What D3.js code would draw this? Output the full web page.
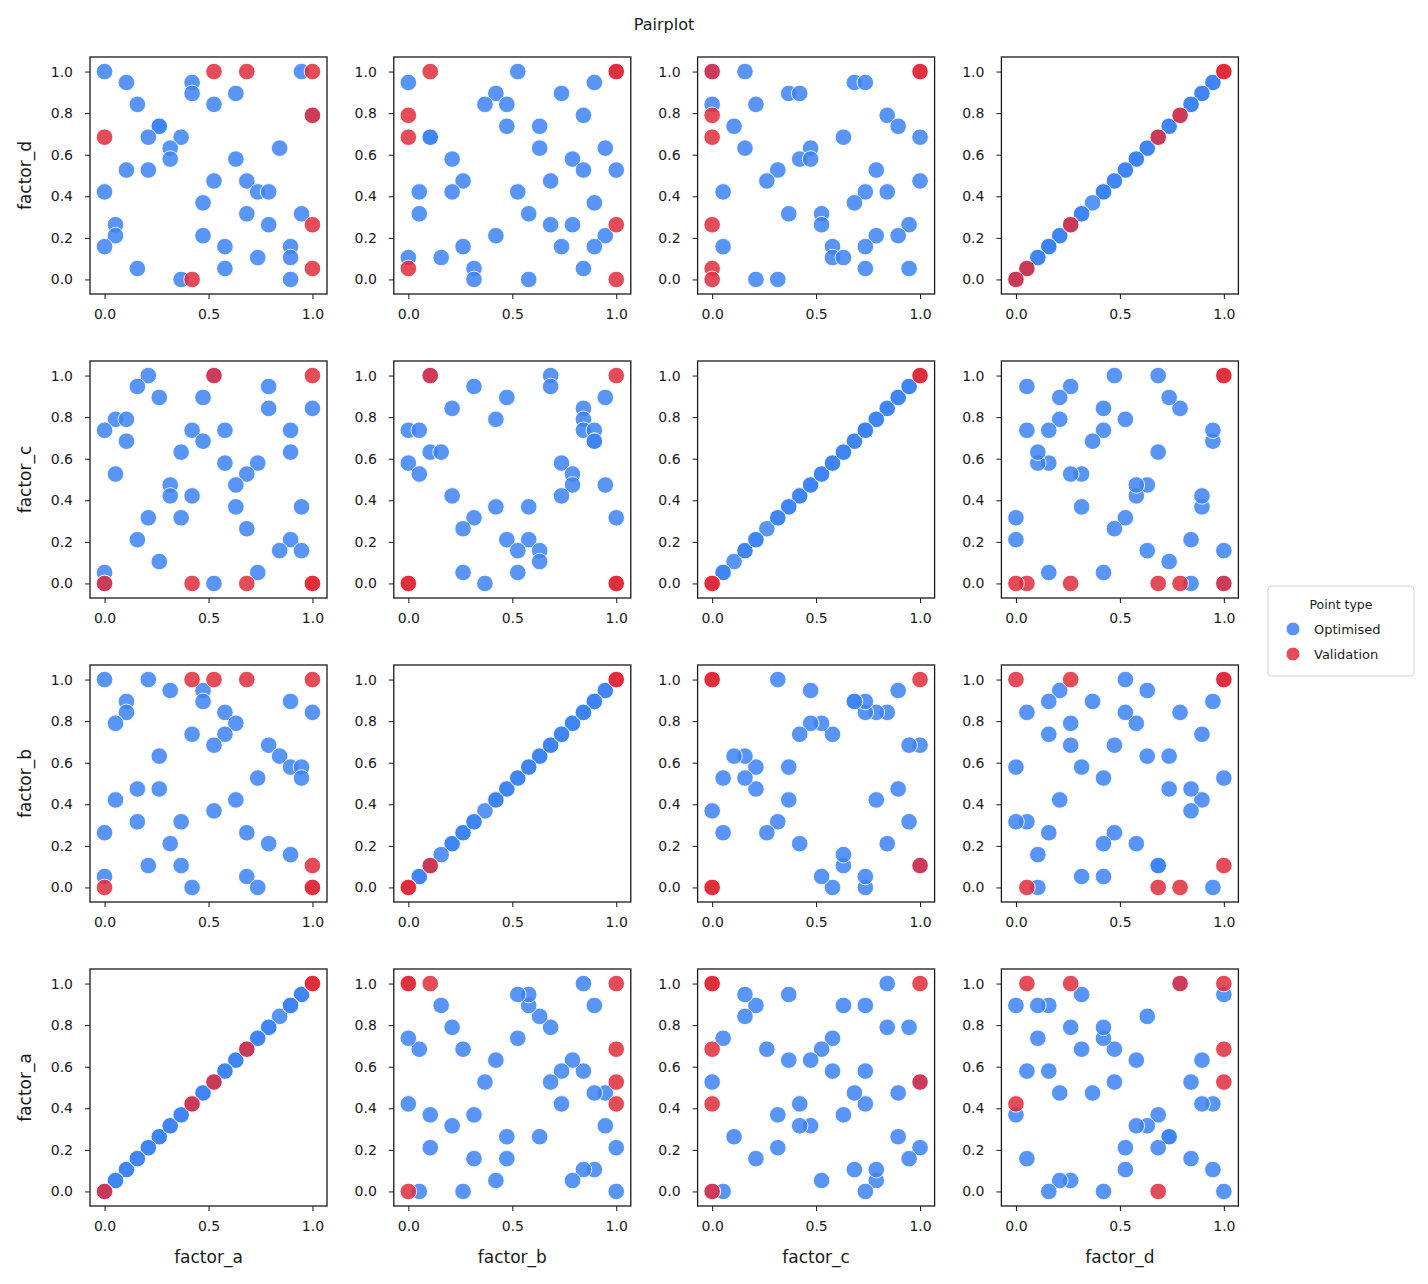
<!DOCTYPE html>
<html>
<head>
<meta charset="utf-8">
<script src="https://cdn.jsdelivr.net/npm/d3@7"></script>
<style>
  body { margin: 0; background: #fff; }
  text { font-family: "DejaVu Sans", sans-serif; fill: #1a1a1a; }
  .tick text { font-size: 14px; }
  .tick line { stroke: #1a1a1a; }
  .frame { fill: none; stroke: #1a1a1a; stroke-width: 1.3; }
</style>
</head>
<body>
<div id="chart"></div>
<script>
// factor order for columns (x); rows go the other way round
const factors = ["factor_a", "factor_b", "factor_c", "factor_d"];
const rowFactors = [3, 2, 1, 0];
const steps = 19;  // values are i / 19
const xTicks = [0, 0.5, 1];
const yTicks = [0, 0.2, 0.4, 0.6, 0.8, 1];
const pointTypes = ["Optimised", "Validation"];
const colors = ["#3b82f6", "#e02d3c"];

// pairs as grid indices [first factor, second factor]
const ab_optimised = [[0,19],[4,19],[6,18],[9,18],[9,17],[2,17],[2,16],[1,15],[17,17],[19,16],[11,16],[12,15],[8,14],[11,14],[10,13],[15,13],[5,12],[16,12],[17,11],[18,11],[18,10],[14,10],[3,9],[5,9],[1,8],[12,8],[10,7],[3,6],[7,6],[0,5],[13,5],[6,4],[15,4],[17,3],[4,2],[7,2],[0,1],[13,1],[8,0],[14,0]];
const ab_validation = [[8,19],[10,19],[13,19],[19,19],[19,2],[19,0],[19,0],[0,0]];

const ac_optimised = [[4,19],[3,18],[5,17],[9,17],[15,18],[15,16],[19,16],[1,15],[2,15],[0,14],[8,14],[11,14],[17,14],[2,13],[9,13],[7,12],[17,12],[11,11],[14,11],[1,10],[13,10],[6,9],[12,9],[6,8],[8,8],[12,7],[18,7],[4,6],[7,6],[13,5],[3,4],[17,4],[16,3],[18,3],[5,2],[0,1],[14,1],[10,0],[0,0],[10,19]];
const ac_validation = [[10,19],[19,19],[13,0],[19,0],[19,0],[19,0],[0,0],[8,0]];

const ad_optimised = [[0,19],[2,18],[18,19],[8,18],[8,17],[12,17],[3,16],[10,16],[5,14],[5,14],[4,13],[7,13],[6,12],[16,12],[6,11],[12,11],[2,10],[4,10],[10,9],[13,9],[0,8],[14,8],[15,8],[9,7],[13,6],[18,6],[1,5],[15,5],[1,4],[9,4],[0,3],[11,3],[17,3],[14,2],[17,2],[3,1],[11,1],[7,0],[17,0],[19,15]];
const ad_validation = [[10,19],[13,19],[19,19],[19,15],[0,13],[19,5],[19,1],[8,0]];

const bc_optimised = [[13,19],[13,18],[6,18],[9,17],[18,17],[4,16],[16,16],[8,15],[16,15],[0,14],[1,14],[16,14],[17,14],[17,13],[17,13],[2,12],[3,12],[0,11],[14,11],[1,10],[15,10],[15,9],[18,9],[4,8],[14,8],[8,7],[11,7],[6,6],[19,6],[5,5],[9,4],[11,4],[10,3],[12,3],[12,2],[5,1],[10,1],[7,0],[2,19],[19,0]];
const bc_validation = [[2,19],[19,19],[0,0],[0,0],[0,0],[19,0],[19,0],[19,0]];

const bd_optimised = [[0,18],[10,19],[17,18],[8,17],[14,17],[7,16],[9,16],[16,15],[9,14],[12,14],[2,13],[2,13],[12,12],[18,12],[4,11],[15,11],[16,10],[19,10],[5,9],[13,9],[1,8],[4,8],[10,8],[17,7],[1,6],[11,6],[13,5],[15,5],[8,4],[18,4],[5,3],[14,3],[17,3],[0,2],[3,2],[6,1],[16,1],[6,0],[11,0],[19,19]];
const bd_validation = [[2,19],[19,19],[19,19],[0,15],[0,13],[19,5],[0,1],[19,0]];

const cd_optimised = [[3,19],[13,18],[14,18],[7,17],[8,17],[0,16],[4,16],[16,15],[2,14],[17,14],[12,13],[19,13],[3,12],[9,12],[8,11],[9,11],[6,10],[15,10],[5,9],[19,9],[1,8],[14,8],[16,8],[13,7],[7,6],[10,6],[10,5],[18,5],[15,4],[17,4],[1,3],[11,3],[14,3],[11,2],[12,2],[14,1],[18,1],[4,0],[6,0],[0,19]];
const cd_validation = [[0,19],[19,19],[19,19],[0,15],[0,13],[0,5],[0,1],[0,0]];

const pairs = {
  "0-1": [ab_optimised, ab_validation],
  "0-2": [ac_optimised, ac_validation],
  "0-3": [ad_optimised, ad_validation],
  "1-2": [bc_optimised, bc_validation],
  "1-3": [bd_optimised, bd_validation],
  "2-3": [cd_optimised, cd_validation]
};

const w = 1428, h = 1284;
const panel = { left: 90, top: 57, stepX: 303.8, stepY: 304, size: 237 };

const svg = d3.select("#chart").append("svg")
  .attr("width", w)
  .attr("height", h);

// points of one panel: x factor i, y factor j
function panelPoints(i, j) {
  const out = [];
  if (i === j) {
    // diagonal: every value against itself
    const key = i < 3 ? `${i}-3` : "0-3";
    const pos = i < 3 ? 0 : 1;
    pairs[key].forEach((list, t) => list.forEach(p => out.push({ x: p[pos], y: p[pos], t })));
    return out;
  }
  const a = Math.min(i, j), b = Math.max(i, j);
  pairs[`${a}-${b}`].forEach((list, t) => list.forEach(p => {
    out.push(i < j ? { x: p[0], y: p[1], t } : { x: p[1], y: p[0], t });
  }));
  return out;
}

const xScale = d3.scaleLinear().domain([-0.07, 1.07]).range([0, panel.size]);
const yScale = d3.scaleLinear().domain([-0.07, 1.07]).range([panel.size, 0]);

rowFactors.forEach((fy, r) => {
  factors.forEach((_, c) => {
    const fx = c;
    const g = svg.append("g")
      .attr("transform", `translate(${panel.left + c * panel.stepX},${panel.top + r * panel.stepY})`);

    g.append("g")
      .attr("transform", `translate(0,${panel.size})`)
      .call(d3.axisBottom(xScale).tickValues(xTicks).tickFormat(d3.format(".1f")).tickSize(5).tickPadding(10))
      .call(s => s.select(".domain").remove());

    g.append("g")
      .call(d3.axisLeft(yScale).tickValues(yTicks).tickFormat(d3.format(".1f")).tickSize(5).tickPadding(12))
      .call(s => s.select(".domain").remove());

    const pts = panelPoints(fx, fy).sort((p, q) => p.t - q.t);
    g.selectAll("circle")
      .data(pts)
      .enter()
      .append("circle")
      .attr("cx", d => xScale(d.x / steps))
      .attr("cy", d => yScale(d.y / steps))
      .attr("r", 8.3)
      .attr("fill", d => colors[d.t])
      .attr("fill-opacity", 0.85)
      .attr("stroke", "#fff")
      .attr("stroke-width", 0.9);

    g.append("rect")
      .attr("class", "frame")
      .attr("width", panel.size)
      .attr("height", panel.size);

    if (c === 0) {
      svg.append("text")
        .attr("transform", `translate(31,${panel.top + r * panel.stepY + panel.size / 2}) rotate(-90)`)
        .style("text-anchor", "middle")
        .style("font-size", "17px")
        .text(factors[fy]);
    }
    if (r === 3) {
      svg.append("text")
        .attr("x", panel.left + c * panel.stepX + panel.size / 2)
        .attr("y", panel.top + r * panel.stepY + panel.size + 57)
        .style("text-anchor", "middle")
        .style("font-size", "17px")
        .text(factors[fx]);
    }
  });
});

// Título
svg.append("text")
  .attr("x", 664)
  .attr("y", 30)
  .style("text-anchor", "middle")
  .style("font-size", "16px")
  .text("Pairplot");

// Leyenda
const legend = svg.append("g").attr("transform", "translate(1268,586)");
legend.append("rect")
  .attr("width", 146)
  .attr("height", 90)
  .attr("rx", 3)
  .attr("fill", "#fff")
  .attr("stroke", "#d0d0d0");
legend.append("text")
  .attr("x", 73)
  .attr("y", 23)
  .style("text-anchor", "middle")
  .style("font-size", "12.5px")
  .text("Point type");
pointTypes.forEach((name, k) => {
  legend.append("circle")
    .attr("cx", 25)
    .attr("cy", 43 + k * 25)
    .attr("r", 7)
    .attr("fill", colors[k])
    .attr("fill-opacity", 0.85)
    .attr("stroke", "#fff");
  legend.append("text")
    .attr("x", 46)
    .attr("y", 48 + k * 25)
    .style("font-size", "13px")
    .text(name);
});
</script>
</body>
</html>
